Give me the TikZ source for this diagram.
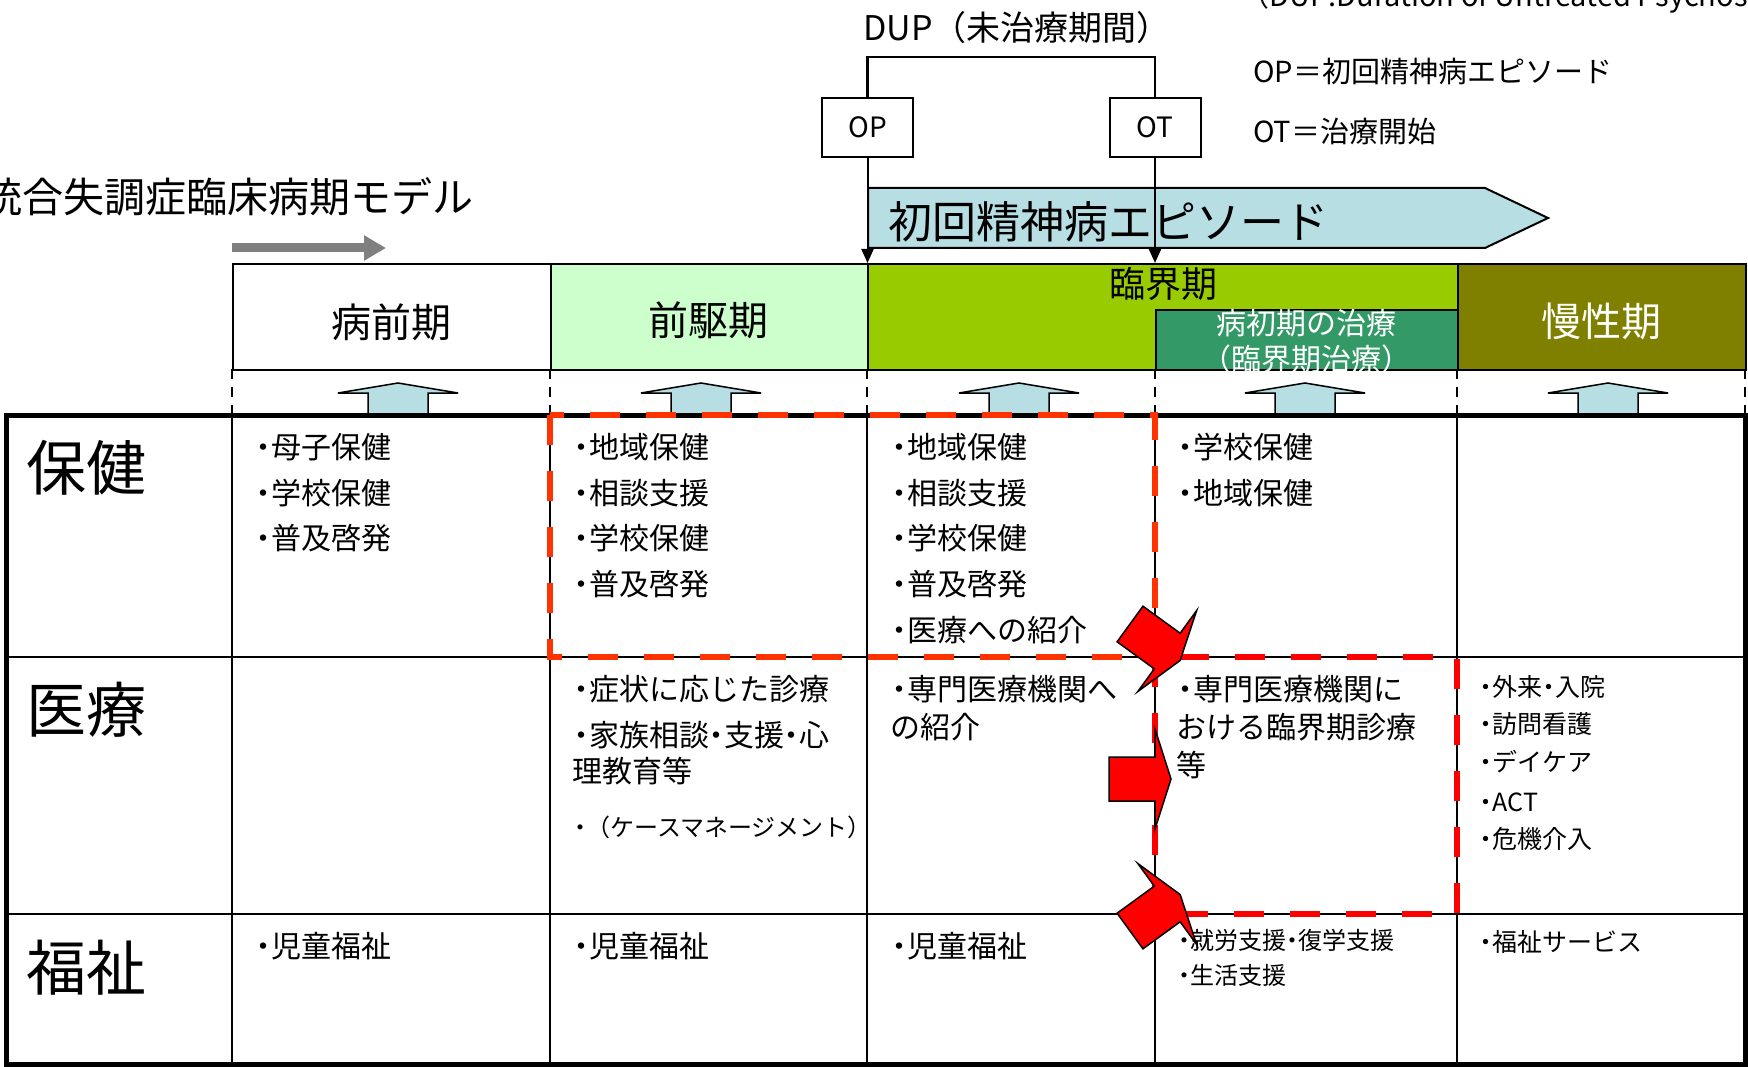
\documentclass[tikz,border=0pt]{standalone}
\usepackage{fontspec}
\setmainfont{Noto Sans CJK JP}
\usetikzlibrary{arrows.meta}
\definecolor{lblue}{HTML}{B7DEE3}
\definecolor{prodgreen}{HTML}{CCFFCC}
\definecolor{critgreen}{HTML}{99CC00}
\definecolor{earlygreen}{HTML}{339966}
\definecolor{chronolive}{HTML}{808000}
\definecolor{dashorange}{HTML}{FF3300}
\definecolor{grayarrow}{HTML}{808080}
\newcommand{\bt}{\makebox[0.5em][c]{・}}
\newcommand{\fs}[1]{\fontsize{#1}{#1}\selectfont}
\begin{document}
\begin{tikzpicture}[x=1pt,y=-1pt,
  cell/.style={anchor=west,inner sep=0pt,font=\fs{30}},
  smallcell/.style={anchor=west,inner sep=0pt,font=\fs{25}},
  tinycell/.style={anchor=west,inner sep=0pt,font=\fs{24}},
  rowhead/.style={anchor=west,inner sep=0pt,font=\fs{60}},
  phasebox/.style={draw,line width=2pt,inner sep=0pt,anchor=north west},
  phasetext/.style={inner sep=0pt,font=\fs{40}},
  tagbox/.style={draw,line width=2pt,fill=white,minimum width=91pt,minimum height=59pt,inner sep=0pt,font=\fs{28}},
  legend/.style={anchor=west,inner sep=0pt,font=\fs{29}},
  uparrow/.style={draw,line width=1.5pt,fill=lblue},
  redarrow/.style={draw,line width=1.5pt,fill=red},
  zone/.style={line width=6pt,dash pattern=on 30pt off 26pt},
  guide/.style={line width=2.5pt,dash pattern=on 10pt off 8pt},
  grid/.style={line width=2pt},
  pointer/.style={line width=2pt,-{Triangle[length=14pt,width=12pt]}}
]
\useasboundingbox (0,0) rectangle (1748,1067);
\fill[white] (0,0) rectangle (1748,1067);

% title and gray arrow
\node[anchor=east,inner sep=0pt,font=\fs{41}] (title) at (474,197) {統合失調症臨床病期モデル};
\coordinate (ga1) at (232,248);
\coordinate (ga2) at (386,248);
\draw[grayarrow,line width=9pt,-{Triangle[length=22pt,width=24pt]}] (ga1) -- (ga2);

% phase boxes
\node[phasebox,fill=white,minimum width=318pt,minimum height=106pt] (pre) at (232,263) {};
\node[phasebox,fill=prodgreen,minimum width=317pt,minimum height=106pt] (prod) at (550,263) {};
\node[phasebox,fill=critgreen,minimum width=590pt,minimum height=106pt] (crit) at (867,263) {};
\node[phasebox,fill=earlygreen,minimum width=302pt,minimum height=60pt] (early) at (1155,309) {};
\node[phasebox,fill=chronolive,minimum width=288pt,minimum height=106pt] (chron) at (1457,263) {};
\node[phasetext] (pretxt) at (391,322) {病前期};
\node[phasetext] (prodtxt) at (708,320) {前駆期};
\node[phasetext,font=\fs{36}] (crittxt) at (1163,284) {臨界期};
\node[phasetext,font=\fs{30},text=white] (earlytxt1) at (1306,323) {病初期の治療};
\node[phasetext,font=\fs{30},text=white] (earlytxt2) at (1306,359) {（臨界期治療）};
\node[phasetext,text=white] (chrontxt) at (1601,321) {慢性期};

% first episode pentagon
\draw[line width=2pt,fill=lblue] (868,188) -- (1485,188) -- (1548,218) -- (1485,248) -- (868,248) -- cycle;
\node[anchor=west,inner sep=0pt,font=\fs{44}] (fep) at (888,222) {初回精神病エピソード};

% OP / OT and DUP bracket
\node[tagbox] (op) at (867.5,127.5) {OP};
\node[tagbox] (ot) at (1155,127.5) {OT};
\coordinate (dupL) at (867.5,57);
\coordinate (dupR) at (1155,57);
\draw[line width=2.5pt] (op.north) -- (dupL) -- (dupR) -- (ot.north);
\coordinate (opend) at (867.5,263);
\coordinate (otend) at (1155,263);
\draw[pointer] (op.south) -- (opend);
\draw[pointer] (ot.south) -- (otend);
\node[inner sep=0pt,font=\fs{34}] (dup) at (1017,28) {DUP（未治療期間）};
\node[legend] (leg0) at (1240,-3) {（DUP:Duration of Untreated Psychosis）};
\node[legend] (leg1) at (1253,71) {OP＝初回精神病エピソード};
\node[legend] (leg2) at (1253,132) {OT＝治療開始};

% dashed guides and up arrows
\foreach \x in {232,550,867,1155,1457,1745}
  \draw[guide] (\x,369) -- (\x,415);
\foreach \cx in {398,701,1019,1305,1608}
  \draw[uparrow] (\cx-30,415) -- (\cx-30,393) -- (\cx-60,393) -- (\cx,383) -- (\cx+60,393) -- (\cx+30,393) -- (\cx+30,415);

% table
\draw[grid] (6,657) -- (1745,657);
\draw[grid] (6,914) -- (1745,914);
\foreach \x in {232,550,867,1155,1457}
  \draw[grid] (\x,415) -- (\x,1064);
\draw[line width=5pt] (6,415) rectangle (1745,1064);

% row headers
\node[rowhead] (rh1) at (26,468) {保健};
\node[rowhead] (rh2) at (26,710) {医療};
\node[rowhead] (rh3) at (26,968) {福祉};

% column 1
\node[cell] (a1) at (256,447) {\bt 母子保健};
\node[cell] (a2) at (256,493) {\bt 学校保健};
\node[cell] (a3) at (256,538) {\bt 普及啓発};
\node[cell] (a4) at (256,946) {\bt 児童福祉};

% column 2
\node[cell] (b1) at (574,447) {\bt 地域保健};
\node[cell] (b2) at (574,493) {\bt 相談支援};
\node[cell] (b3) at (574,538) {\bt 学校保健};
\node[cell] (b4) at (574,584) {\bt 普及啓発};
\node[cell] (b5) at (574,689) {\bt 症状に応じた診療};
\node[cell] (b6) at (574,735) {\bt 家族相談\bt 支援\bt 心};
\node[cell] (b7) at (572,771) {理教育等};
\node[tinycell] (b8) at (574,827) {\bt （ケースマネージメント）};
\node[cell] (b9) at (574,946) {\bt 児童福祉};

% column 3
\node[cell] (c1) at (892,447) {\bt 地域保健};
\node[cell] (c2) at (892,493) {\bt 相談支援};
\node[cell] (c3) at (892,538) {\bt 学校保健};
\node[cell] (c4) at (892,584) {\bt 普及啓発};
\node[cell] (c5) at (892,630) {\bt 医療への紹介};
\node[cell] (c6) at (892,689) {\bt 専門医療機関へ};
\node[cell] (c7) at (890,727) {の紹介};
\node[cell] (c8) at (892,946) {\bt 児童福祉};

% column 4
\node[cell] (d1) at (1178,447) {\bt 学校保健};
\node[cell] (d2) at (1178,493) {\bt 地域保健};
\node[cell] (d3) at (1178,689) {\bt 専門医療機関に};
\node[cell] (d4) at (1176,727) {おける臨界期診療};
\node[cell] (d5) at (1176,765) {等};
\node[tinycell] (d6) at (1178,940) {\bt 就労支援\bt 復学支援};
\node[tinycell] (d7) at (1178,975) {\bt 生活支援};

% column 5
\node[smallcell] (e1) at (1480,687) {\bt 外来\bt 入院};
\node[smallcell] (e2) at (1480,724) {\bt 訪問看護};
\node[smallcell] (e3) at (1480,762) {\bt デイケア};
\node[smallcell] (e4) at (1480,802) {\bt ACT};
\node[smallcell] (e5) at (1480,839) {\bt 危機介入};
\node[smallcell] (e6) at (1480,942) {\bt 福祉サービス};

% dashed zones
\draw[dashorange,zone] (550,415) rectangle (1155,657);
\draw[red,zone] (1155,657) rectangle (1457,914);

% red block arrows
\draw[redarrow,shift={(1130,624)},rotate=-36] (0,-22) -- (46,-22) -- (46,-50) -- (62,0) -- (46,50) -- (46,22) -- (0,22) -- cycle;
\draw[redarrow,shift={(1109,779)}] (0,-22) -- (46,-22) -- (46,-50) -- (62,0) -- (46,50) -- (46,22) -- (0,22) -- cycle;
\draw[redarrow,shift={(1130,931)},rotate=36] (0,-22) -- (46,-22) -- (46,-50) -- (62,0) -- (46,50) -- (46,22) -- (0,22) -- cycle;
\end{tikzpicture}
\end{document}
